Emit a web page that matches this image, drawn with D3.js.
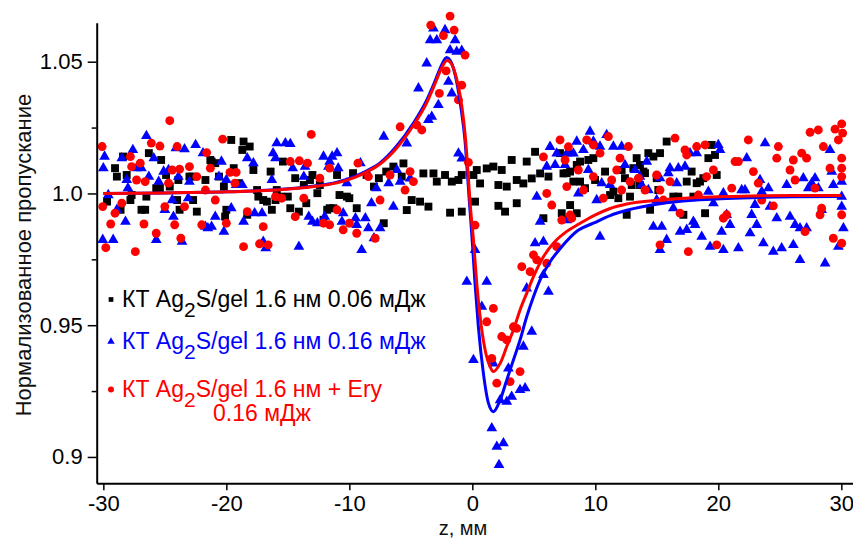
<!DOCTYPE html>
<html>
<head>
<meta charset="utf-8">
<script src="https://cdn.jsdelivr.net/npm/d3@7"></script>
<style>
  body { margin: 0; background: #fff; }
  svg { display: block; }
  text { font-family: "Liberation Sans", Arial, sans-serif; }
</style>
</head>
<body>
<svg id="chart" width="853" height="538"></svg>
<script>
// Z-scan: normalized transmittance vs sample position z (mm)

// КТ Ag2S/gel 1.6 нм, 0.06 мДж  [z, T]
const seriesLow = [
  [-29.7,0.9969],[-29.05,1.0096],[-28.9,1.0064],[-28.6,0.9938],[-28.4,1.014],[-28.1,1.007],[-27.8,0.9975],[-27.7,0.9994],
  [-26.9,0.9938],[-26.6,0.9938],[-26.5,0.9988],[-26.3,1.0153],[-25.7,1.002],[-25.4,1.002],[-25.3,1.0127],[-24.9,1.007],
  [-24.6,1.0026],[-24.0,0.9975],[-23.9,1.0051],[-23.8,0.9938],[-23.0,1.0064],[-22.8,1.0064],[-22.7,0.9975],[-22.4,0.9931],
  [-21.7,1.0051],[-21.3,1.0127],[-21.2,1.0121],[-20.9,1.0115],[-20.6,1.0064],[-20.2,1.0026],[-20.1,0.9912],[-20.0,0.9938],
  [-19.6,1.0203],[-19.4,1.0096],[-19.0,1.0039],[-18.7,1.0165],[-18.6,1.0197],[-18.3,0.9919],[-18.1,1.0178],[-17.8,1.0089],
  [-17.5,1.0013],[-17.4,0.9988],[-17.0,0.9975],[-16.7,0.9969],[-16.4,1.0083],[-16.3,0.9938],[-16.0,0.9975],[-15.9,1.0013],
  [-15.6,0.9988],[-15.4,1.0121],[-15.0,0.9988],[-14.8,0.9944],[-14.4,1.0058],[-14.1,0.9931],[-13.7,1.0032],[-13.5,0.9963],
  [-13.2,1.0051],[-13.0,1.007],[-12.6,1.0001],[-12.4,1.0032],[-12.1,0.99],[-11.8,0.9938],[-11.6,0.9944],[-11.3,0.9944],
  [-11.0,1.007],[-10.8,0.9994],[-10.2,0.9988],[-10.0,0.9982],[-9.7,1.0077],[-9.4,0.9944],[-8.6,1.007],[-8.0,1.0026],
  [-7.6,1.0058],[-7.2,0.9887],[-7.0,1.0083],[-6.42,1.0102],[-5.6,1.0114],[-5.74,1.0064],[-5.33,0.9937],[-4.93,0.9975],
  [-4.25,0.9969],[-3.98,1.0076],[-3.57,0.995],[-3.16,1.0076],[-2.89,1.0045],[-2.22,1.007],[-1.81,0.9927],[-1.67,1.0045],
  [-1.13,1.0051],[-0.86,1.007],[-0.86,0.9931],[0.09,1.007],[0.22,0.9969],[0.36,1.0089],[0.63,1.0038],[1.17,1.0095],
  [1.71,1.0102],[2.12,1.0032],[2.12,0.9953],[2.39,1.0089],[2.66,0.9931],[2.8,1.0026],[3.2,1.0127],[3.61,1.0051],
  [3.61,0.9963],[4.15,1.0038],[4.42,1.0121],[4.83,1.0057],[5.1,1.0158],[5.51,1.0076],[5.78,0.9906],[6.19,1.0064],
  [7.13,1.0153],[7.27,0.9925],[7.41,1.0076],[7.67,1.0077],[7.95,1.0083],[7.95,0.9956],[8.21,1.0045],[8.49,1.0108],
  [8.49,0.9925],[8.76,1.0121],[8.76,1.0045],[9.16,1.002],[9.43,1.0127],[9.84,1.0134],[9.98,1.0051],[10.79,1.0083],
  [11.2,0.9994],[11.47,1.0007],[11.87,0.9982],[12.14,1.0089],[12.41,1.0058],[12.55,0.9919],[12.82,0.9988],[12.96,1.0032],
  [13.09,1.0096],[13.36,1.0134],[13.63,1.0108],[13.63,1.0032],[13.91,1.0083],[14.04,1.0077],[14.31,1.0153],[14.45,0.9938],
  [14.72,1.014],[14.99,1.0058],[15.12,1.0013],[15.26,1.0153],[15.8,1.0197],[16.34,0.9988],[16.75,0.9988],[17.16,0.9919],
  [17.43,1.0045],[17.83,1.0083],[17.97,0.9988],[18.24,1.0039],[18.51,1.0045],[18.78,1.0058],[18.92,0.9925],[19.19,1.0134],
  [19.46,1.0184],[19.73,1.0146],[19.87,1.007]
];

// КТ Ag2S/gel 1.6 нм, 0.16 мДж  [z, T]
const seriesHigh = [
  [-30.05,0.9824],[-30.0,1.0096],[-29.9,1.014],[-29.6,0.9994],[-29.2,0.9824],[-28.9,0.9938],[-28.5,1.0134],[-28.2,0.9893],
  [-28.1,1.0051],[-28.0,1.002],[-27.6,1.0165],[-27.3,1.0096],[-26.9,1.0096],[-26.5,1.0218],[-26.3,1.0064],[-25.9,1.0134],
  [-25.7,0.9824],[-25.5,1.0045],[-25.1,1.0083],[-25.0,0.9938],[-24.7,1.0089],[-24.4,0.9975],[-24.3,0.9912],[-24.1,1.0172],
  [-23.9,1.0064],[-23.6,0.9817],[-23.4,1.0168],[-23.1,0.9982],[-23.0,1.0045],[-22.5,1.0184],[-21.9,1.0153],[-21.7,0.9874],
  [-21.5,0.9868],[-21.2,0.9874],[-20.9,0.9912],[-20.6,1.0064],[-20.4,1.0121],[-20.2,0.9855],[-20.0,1.0051],[-19.6,0.9944],
  [-19.2,1.0032],[-18.7,1.0032],[-18.6,0.9893],[-18.3,1.0134],[-17.8,1.0115],[-17.7,0.9925],[-17.1,0.9925],[-17.0,0.9817],
  [-16.8,0.9792],[-16.3,1.0051],[-16.2,1.0153],[-16.0,1.0134],[-15.9,1.0191],[-15.2,1.0191],[-14.8,1.0188],[-14.6,1.0096],
  [-14.1,0.9798],[-13.7,1.0064],[-13.6,1.0102],[-13.3,0.9912],[-13.0,0.9893],[-12.6,0.9887],[-12.1,1.014],[-12.0,0.9912],
  [-11.7,1.0102],[-11.6,1.0121],[-11.4,1.014],[-11.0,1.0153],[-10.9,1.0096],[-10.6,0.9893],[-10.5,0.9925],[-10.2,1.0039],
  [-9.5,0.9906],[-9.4,0.9881],[-9.1,1.0115],[-9.0,0.9786],[-8.7,0.9906],[-8.45,0.9868],[-8.2,0.9963],[-8.0,0.983],
  [-7.8,1.002],[-7.5,0.9868],[-7.2,1.0216],[-6.8,1.0039],[-6.42,0.995],[-6.14,1.0089],[-5.87,1.0045],[-5.33,1.019],
  [-5.06,1.0057],[-4.38,1.0399],[-3.71,1.0494],[-3.57,1.0279],[-3.43,1.0582],[-3.3,1.0291],[-3.16,1.0626],[-2.89,1.0582],
  [-2.76,1.0336],[-2.22,1.062],[-1.94,1.0424],[-1.81,1.0544],[-1.67,1.038],[-1.4,1.0582],[-1.27,1.0538],[-1.13,1.0152],
  [-0.86,1.0542],[-0.86,1.0133],[-0.45,0.9665],[0.09,0.9368],[0.22,0.9786],[0.77,0.957],[1.17,0.9665],[1.58,0.9109],
  [1.71,0.9355],[1.99,0.9039],[2.17,0.897],[2.26,0.9216],[2.53,0.9052],[2.8,0.921],[2.93,0.9336],[3.2,0.9229],
  [3.88,0.9254],[4.15,0.9419],[4.29,0.9261],[4.42,0.964],[4.83,0.9476],[5.1,0.9811],[5.24,0.9988],[5.51,0.9893],
  [5.78,0.9691],[5.78,0.9817],[6.05,1.0102],[6.19,0.9627],[6.32,1.0177],[6.73,1.0108],[6.86,1.0152],[7.54,1.0108],
  [7.68,1.0152],[7.68,0.9899],[7.94,1.0153],[8.22,1.0152],[8.49,1.0197],[8.62,1.0],[9.03,1.0165],[9.43,1.0089],
  [9.57,1.0235],[9.84,1.0197],[10.11,0.9975],[10.38,1.0178],[10.38,0.9836],[10.52,1.0039],[10.92,1.0222],[11.2,1.0032],
  [11.47,1.0178],[12.14,1.0178],[12.41,1.0108],[13.23,1.0089],[13.63,1.0064],[13.77,1.0032],[14.18,1.0121],[14.31,1.0013],
  [14.72,0.9874],[14.99,0.9975],[15.26,1.0058],[15.26,0.9786],[15.4,0.9874],[15.8,0.9824],[15.94,1.0077],[16.07,1.0096],
  [16.34,0.9944],[16.62,1.0039],[16.75,1.0096],[16.89,0.9855],[17.29,1.0102],[17.43,0.9862],[17.7,1.0153],[17.97,0.9893],
  [18.11,0.9881],[18.24,1.0153],[18.65,0.9836],[19.19,1.0007],[19.33,0.9798],[19.6,0.9963],[20.0,1.0184],[20.14,1.0165],
  [20.27,0.9855],[20.41,1.0001],[20.41,0.9786],[20.68,0.9919],[20.95,0.9881],[21.63,0.9792],[21.9,1.0013],[22.17,1.0013],
  [22.31,1.0134],[22.58,0.9849],[22.71,0.9919],[22.98,0.9957],[23.12,0.9881],[23.39,1.0051],[23.53,1.0007],[23.66,0.9811],
  [23.8,1.0191],[24.07,1.002],[24.2,0.995],[24.47,0.9779],[24.75,0.9906],[25.15,0.9792],[25.56,1.0032],[25.83,0.9912],
  [26.1,0.9805],[26.24,0.9881],[26.64,0.9748],[26.64,0.9868],[26.91,1.0058],[27.18,0.9868],[27.32,1.002],[27.59,1.0039],
  [27.86,1.0058],[28.13,1.002],[28.4,0.9938],[28.68,0.9735],[29.08,1.0165],[29.22,1.0083],[29.35,1.0032],[29.76,0.9798],
  [30.03,1.0045],[30.03,0.9988],[30.03,0.995],[30.17,0.9868]
];

// КТ Ag2S/gel 1.6 нм + Ery, 0.16 мДж  [z, T]
const seriesEry = [
  [-30.1,1.0178],[-30.05,0.995],[-29.8,0.9794],[-29.4,0.9884],[-29.05,0.9925],[-28.5,0.9963],[-27.8,1.014],[-27.7,1.0102],
  [-27.4,0.9779],[-27.3,1.0051],[-27.0,1.0115],[-26.7,0.9884],[-26.6,1.0045],[-26.1,1.0191],[-25.7,0.9849],[-25.4,1.018],
  [-25.0,0.995],[-24.7,1.0039],[-24.6,1.0276],[-24.4,1.0089],[-24.2,0.9881],[-24.0,1.0178],[-23.8,1.0092],[-23.7,0.983],
  [-23.4,0.995],[-23.0,1.0102],[-22.4,1.0064],[-22.0,0.9881],[-21.7,1.0013],[-21.6,1.0155],[-21.3,1.0096],[-20.9,0.9975],
  [-20.3,1.0206],[-20.0,0.9887],[-19.7,1.008],[-19.3,1.0039],[-19.2,1.008],[-18.6,0.9798],[-18.3,0.9931],[-17.3,0.9809],
  [-17.0,0.9874],[-16.6,0.9805],[-16.0,0.9988],[-15.5,0.9982],[-14.8,1.0121],[-14.4,0.9912],[-14.06,1.0124],[-13.7,0.9982],
  [-13.4,1.0115],[-13.1,1.0224],[-12.4,1.0058],[-12.1,0.9887],[-11.6,1.0096],[-11.6,0.9881],[-11.0,0.9938],[-10.5,0.9862],
  [-10.0,0.9887],[-9.4,0.9849],[-9.3,1.0115],[-8.45,1.0064],[-7.9,0.983],[-7.5,0.9975],[-6.69,1.007],[-5.87,1.0253],
  [-5.47,1.0013],[-5.06,1.0083],[-4.79,1.0045],[-4.52,1.026],[-4.11,1.0241],[-3.38,1.0639],[-2.68,1.038],[-2.35,1.0599],
  [-2.13,1.0465],[-1.81,1.0673],[-1.48,1.062],[-1.13,1.0355],[-0.86,1.0411],[-0.59,1.0525],[-0.32,1.0118],[0.22,0.988],
  [1.17,0.9513],[1.58,0.9374],[1.71,0.9564],[1.99,0.928],[2.39,0.9457],[2.8,0.9444],[3.07,0.9286],[3.34,0.9494],
  [3.61,0.9488],[3.88,0.9324],[4.02,0.9722],[4.7,0.9703],[4.97,0.9767],[5.24,0.9748],[5.78,1.0139],[6.05,0.9735],
  [6.05,1.0],[6.46,0.9956],[6.86,0.9798],[7.13,1.0203],[7.27,0.9899],[7.54,1.0127],[7.68,1.0026],[7.81,1.0177],
  [7.95,0.9918],[8.08,0.9906],[8.62,1.0089],[9.03,1.0013],[9.3,1.0203],[9.84,1.0184],[9.84,1.0064],[10.38,1.0153],
  [10.65,0.9982],[11.06,1.0216],[11.33,1.0051],[11.74,1.0089],[12.01,1.0134],[12.14,1.0013],[12.69,1.0178],[12.82,1.0045],
  [13.5,1.0058],[14.04,1.0013],[14.99,1.007],[15.26,1.0013],[15.26,0.9805],[15.53,0.9975],[16.07,1.0045],[16.48,1.021],
  [16.89,0.9925],[17.29,1.0165],[17.43,1.0146],[17.56,0.9779],[18.24,1.0178],[18.38,0.9994],[18.92,1.0184],[19.05,1.0064],
  [19.6,1.0089],[19.87,0.9805],[20.41,0.9906],[20.68,0.9919],[21.09,1.002],[21.36,1.0121],[21.63,1.0121],[22.44,1.0203],
  [22.85,1.0083],[23.25,1.0039],[23.53,0.9975],[24.47,0.9953],[24.75,1.0134],[24.88,1.0178],[25.83,1.0089],[26.1,1.0127],
  [26.24,1.0051],[26.78,1.0153],[27.05,0.9855],[27.18,1.0134],[27.46,1.0232],[27.86,1.002],[28.13,1.0241],[28.27,0.9919],
  [28.4,0.9944],[28.54,1.0178],[29.08,1.0096],[29.35,0.983],[29.49,1.0244],[29.76,1.0203],[30.03,1.0264],[30.11,1.0229],
  [30.03,1.0134],[30.03,1.0096],[30.03,1.0064],[30.03,0.9919],[30.03,0.9811]
];

// Fitted curves [z, T]
const fitHigh = [
  [-30,1.0],[-25,1.0002],[-20,1.0006],[-16,1.0014],[-13,1.0027],[-11,1.0043],[-9.5,1.0066],[-8.5,1.0088],
  [-7.5,1.0116],[-6.2,1.0177],[-4.8,1.0266],[-3.7,1.0355],[-3.0,1.043],[-2.5,1.0487],[-2.1,1.0516],[-1.7,1.0496],
  [-1.3,1.043],[-0.9,1.0317],[-0.6,1.0203],[-0.4,1.0076],[-0.25,0.9975],[-0.05,0.9849],[0.22,0.9659],[0.49,0.9495],
  [0.9,0.9317],[1.31,0.9204],[1.71,0.9172],[2.26,0.9216],[2.8,0.9292],[3.34,0.9368],[3.88,0.9444],[4.42,0.9532],
  [4.97,0.9608],[5.51,0.9672],[6.32,0.9741],[7.13,0.979],[8.6,0.986],[9.84,0.9887],[11.2,0.9916],[12.55,0.9936],
  [15.26,0.9961],[17.97,0.9974],[20.7,0.9981],[23.4,0.9985],[26.1,0.9987],[30,0.9988]
];
const fitEry = [
  [-30,1.0],[-25,1.0002],[-20,1.0006],[-16,1.0013],[-13,1.0025],[-11,1.004],[-9.5,1.0062],[-8.5,1.0084],
  [-7.5,1.0112],[-6.2,1.017],[-4.8,1.0258],[-3.7,1.0345],[-3.0,1.042],[-2.5,1.0476],[-2.05,1.0505],[-1.65,1.0488],
  [-1.25,1.043],[-0.85,1.033],[-0.55,1.0205],[-0.35,1.008],[-0.2,0.9975],[0.09,0.9824],[0.36,0.9659],[0.63,0.9533],
  [1.04,0.9406],[1.44,0.9343],[1.71,0.9324],[2.26,0.9355],[2.8,0.9419],[3.34,0.9482],[3.88,0.9558],[4.42,0.9621],
  [4.97,0.9684],[5.78,0.976],[6.59,0.9811],[7.68,0.9856],[8.7,0.9885],[9.84,0.9915],[11.2,0.9943],[12.55,0.996],
  [15.26,0.9975],[17.97,0.9984],[20.7,0.9988],[23.4,0.9991],[26.1,0.9992],[30,0.9992]
];

const xTicks = [-30, -20, -10, 0, 10, 20, 30];
const yTicks = [0.9, 0.95, 1.0, 1.05];
const yTickLabels = ["0.9", "0.95", "1.0", "1.05"];
const yMinorTicks = [0.925, 0.975, 1.025];

const legendItems = [
  { color: "#000000", shape: "square",   pre: "КТ Ag", sub: "2", post: "S/gel 1.6 нм 0.06 мДж", extra: null },
  { color: "#0000ff", shape: "triangle", pre: "КТ Ag", sub: "2", post: "S/gel 1.6 нм 0.16 мДж", extra: null },
  { color: "#ff0000", shape: "circle",   pre: "КТ Ag", sub: "2", post: "S/gel 1.6 нм + Ery",    extra: "0.16 мДж" }
];

const svg = d3.select("#chart");

const x = d3.scaleLinear().domain([-30.54, 30.95]).range([96.7, 853]);
const y = d3.scaleLinear().domain([0.890, 1.0648]).range([483.3, 22.7]);

const symSquare = d3.symbol().type(d3.symbolSquare).size(62);
const symTriangle = d3.symbol().type(d3.symbolTriangle).size(50);
const symCircle = d3.symbol().type(d3.symbolCircle).size(62);

function drawPoints(data, sym, color) {
  svg.append("g")
    .selectAll("path")
    .data(data)
    .join("path")
    .attr("transform", d => `translate(${x(d[0])},${y(d[1])})`)
    .attr("d", sym)
    .attr("fill", color);
}

drawPoints(seriesLow, symSquare, "#000000");
drawPoints(seriesHigh, symTriangle, "#0000ff");
drawPoints(seriesEry, symCircle, "#ff0000");

const line = d3.line()
  .x(d => x(d[0]))
  .y(d => y(d[1]))
  .curve(d3.curveMonotoneX);

svg.append("path").datum(fitHigh)
  .attr("d", line).attr("fill", "none")
  .attr("stroke", "#0000ff").attr("stroke-width", 3);
svg.append("path").datum(fitEry)
  .attr("d", line).attr("fill", "none")
  .attr("stroke", "#ff0000").attr("stroke-width", 3);

// Axes
const xAxis = d3.axisBottom(x)
  .tickValues(xTicks)
  .tickFormat(d => String(d))
  .tickSizeInner(7).tickSizeOuter(0).tickPadding(5);
const gx = svg.append("g")
  .attr("transform", `translate(0,${y.range()[0]})`)
  .call(xAxis);

const yAxis = d3.axisLeft(y)
  .tickValues(yTicks)
  .tickFormat((d, i) => yTickLabels[i])
  .tickSizeInner(9).tickSizeOuter(0).tickPadding(5);
const gy = svg.append("g")
  .attr("transform", `translate(${x.range()[0]},0)`)
  .call(yAxis);

const gyMinor = svg.append("g")
  .attr("transform", `translate(${x.range()[0]},0)`)
  .call(d3.axisLeft(y).tickValues(yMinorTicks).tickFormat("").tickSizeInner(5).tickSizeOuter(0));
gyMinor.select(".domain").remove();

[gx, gy, gyMinor].forEach(g => {
  g.select(".domain").attr("stroke", "#000").attr("stroke-width", 2);
  g.selectAll(".tick line").attr("stroke", "#000").attr("stroke-width", 1.5);
  g.selectAll(".tick text")
    .attr("fill", "#000")
    .style("font-size", "22px")
    .style("font-family", "'Liberation Sans', Arial, sans-serif");
});

// Axis titles
svg.append("text")
  .attr("transform", "translate(31,255) rotate(-90)")
  .attr("text-anchor", "middle")
  .attr("fill", "#111")
  .style("font-size", "22px")
  .text("Нормализованное пропускание");

svg.append("text")
  .attr("x", 463).attr("y", 535)
  .attr("text-anchor", "middle")
  .attr("fill", "#111")
  .style("font-size", "20px")
  .text("z, мм");

// Legend
const legendRows = [306.5, 348.5, 396.5];
const legendMarker = {
  square: d3.symbol().type(d3.symbolSquare).size(22),
  triangle: d3.symbol().type(d3.symbolTriangle).size(24),
  circle: d3.symbol().type(d3.symbolCircle).size(28)
};
const legend = svg.append("g");
legendItems.forEach((item, i) => {
  const by = legendRows[i];
  legend.append("path")
    .attr("transform", `translate(111,${by - 7})`)
    .attr("d", legendMarker[item.shape])
    .attr("fill", item.color);
  const t = legend.append("text")
    .attr("x", 122).attr("y", by)
    .attr("fill", item.color)
    .style("font-size", "23px");
  t.append("tspan").text(item.pre);
  t.append("tspan").attr("dy", 10).style("font-size", "21px").text(item.sub);
  t.append("tspan").attr("dy", -10).text(item.post);
  if (item.extra) {
    legend.append("text")
      .attr("x", 213).attr("y", by + 24)
      .attr("fill", item.color)
      .style("font-size", "23px")
      .text(item.extra);
  }
});
</script>
</body>
</html>
